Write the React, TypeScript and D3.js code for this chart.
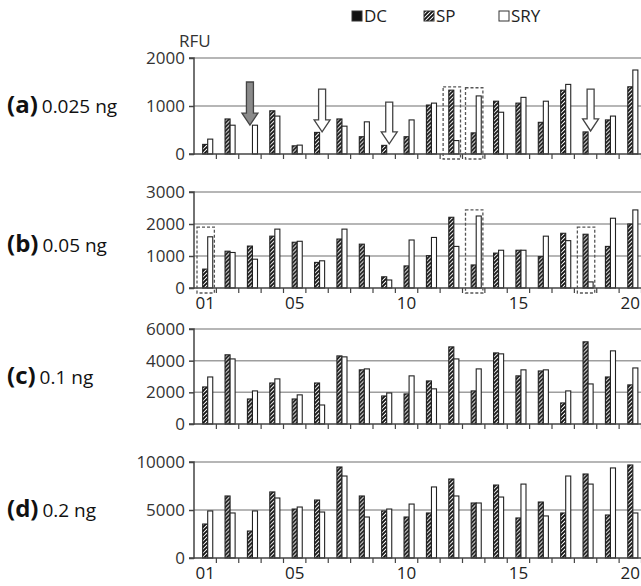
import { useEffect, useRef } from "react";
import * as d3 from "d3";

const LOCI = d3.range(1, 21).map((d) => String(d).padStart(2, "0"));
const SERIES = ["DC", "SP", "SRY"];
const AXIS_LABELS = ["01", "05", "10", "15", "20"];

// RFU per locus (DC is zero throughout)
const DC = new Array(20).fill(0);

const SP_A = [200, 730, 0, 900, 170, 450, 730, 360, 180, 360, 1020, 1330, 440, 1100, 1060, 660, 1330, 460, 710, 1400];
const SRY_A = [310, 600, 600, 790, 185, 0, 580, 670, 0, 710, 1060, 280, 1210, 870, 1180, 1100, 1450, 0, 790, 1750];

const SP_B = [590, 1150, 1310, 1620, 1430, 800, 1530, 1370, 350, 690, 1010, 2210, 720, 1090, 1180, 980, 1710, 1680, 1300, 2000];
const SRY_B = [1600, 1110, 900, 1840, 1460, 850, 1840, 1000, 250, 1500, 1580, 1300, 2250, 1180, 1180, 1620, 1480, 190, 2180, 2440];

const SP_C = [2340, 4370, 1580, 2590, 1580, 2590, 4300, 3420, 1770, 1900, 2720, 4870, 2090, 4490, 3040, 3350, 1330, 5190, 2970, 2470];
const SRY_C = [2970, 4110, 2090, 2850, 1840, 1200, 4240, 3480, 1960, 3040, 2220, 4110, 3480, 4430, 3420, 3420, 2090, 2530, 4620, 3540];

const SP_D = [3540, 6460, 2810, 6880, 5100, 6040, 9480, 6460, 4900, 4270, 4690, 8230, 5730, 7600, 4170, 5830, 4690, 8750, 4480, 9690];
const SRY_D = [4900, 4690, 4900, 6250, 5310, 4790, 8540, 4270, 5100, 5620, 7400, 6460, 5730, 6350, 7700, 4380, 8540, 7700, 9380, 4690];

const PANELS = [
  { letter: "(a)", amount: "0.025 ng", max: 2000, ticks: [0, 1000, 2000], sp: SP_A, sry: SRY_A, labels: false },
  { letter: "(b)", amount: "0.05 ng", max: 3000, ticks: [0, 1000, 2000, 3000], sp: SP_B, sry: SRY_B, labels: true },
  { letter: "(c)", amount: "0.1 ng", max: 6000, ticks: [0, 2000, 4000, 6000], sp: SP_C, sry: SRY_C, labels: false },
  { letter: "(d)", amount: "0.2 ng", max: 10000, ticks: [0, 5000, 10000], sp: SP_D, sry: SRY_D, labels: true },
];

// dropout arrows: panel, locus, which bar is missing, arrow top and tip in RFU
const ARROWS = [
  { panel: 0, locus: "03", series: "SP", top: 1500, tip: 600, fill: "#8a8a8a" },
  { panel: 0, locus: "06", series: "SRY", top: 1350, tip: 460, fill: "#fff" },
  { panel: 0, locus: "09", series: "SRY", top: 1080, tip: 210, fill: "#fff" },
  { panel: 0, locus: "18", series: "SRY", top: 1350, tip: 480, fill: "#fff" },
];

// dashed boxes: panel, locus, top in RFU
const BOXES = [
  { panel: 0, locus: "12", top: 1400 },
  { panel: 0, locus: "13", top: 1380 },
  { panel: 1, locus: "01", top: 1900 },
  { panel: 1, locus: "13", top: 2440 },
  { panel: 1, locus: "18", top: 1900 },
];

const W = 641;
const H = 586;
const FONT = "'Open Sans', sans-serif";
const BASES = [154, 288, 424, 558];
const TOPS = [58, 192, 329, 462];
const LABEL_Y = [113, 252, 384, 517];

const App = () => {
  const svgRef = useRef(null);

  useEffect(() => {
    const svg = d3.select(svgRef.current);
    svg.selectAll("*").remove();

    const defs = svg.append("defs");
    const pat = defs
      .append("pattern")
      .attr("id", "hatch")
      .attr("patternUnits", "userSpaceOnUse")
      .attr("width", 4)
      .attr("height", 4);
    pat.append("rect").attr("width", 4).attr("height", 4).attr("fill", "#fff");
    pat
      .append("path")
      .attr("d", "M-1,1 l2,-2 M0,4 l4,-4 M3,5 l2,-2")
      .attr("stroke", "#111")
      .attr("stroke-width", 1.9);

    const x0 = d3.scaleBand().domain(LOCI).range([194, 641.5]);
    const x1 = d3.scaleBand().domain(SERIES).range([0, x0.bandwidth()]).paddingOuter(0.72);

    // legend
    const legend = [
      { name: "DC", x: 352, fill: "#111" },
      { name: "SP", x: 424, fill: "url(#hatch)" },
      { name: "SRY", x: 499, fill: "#fff" },
    ];
    const lg = svg.append("g").attr("font-family", FONT).attr("font-size", 17);
    legend.forEach((l) => {
      lg.append("rect")
        .attr("x", l.x)
        .attr("y", 11)
        .attr("width", 10)
        .attr("height", 10)
        .attr("fill", l.fill)
        .attr("stroke", "#333");
      lg.append("text").attr("x", l.x + 12).attr("y", 22).attr("fill", "#222").text(l.name);
    });

    svg
      .append("text")
      .attr("x", 179)
      .attr("y", 47)
      .attr("font-family", FONT)
      .attr("font-size", 17)
      .attr("fill", "#333")
      .text("RFU");

    PANELS.forEach((p, i) => {
      const y = d3.scaleLinear().domain([0, p.max]).range([BASES[i], TOPS[i]]);
      const g = svg.append("g");

      // gridlines
      g.selectAll(".grid")
        .data(p.ticks.filter((t) => t > 0))
        .join("line")
        .attr("x1", 194)
        .attr("x2", W)
        .attr("y1", (d) => y(d))
        .attr("y2", (d) => y(d))
        .attr("stroke", "#9e9e9e")
        .attr("stroke-width", 1.5);

      // bars
      const rows = LOCI.map((loc, k) => ({ loc, DC: DC[k], SP: p.sp[k], SRY: p.sry[k] }));
      const groups = g
        .selectAll(".locus")
        .data(rows)
        .join("g")
        .attr("transform", (d) => `translate(${x0(d.loc)},0)`);
      groups
        .selectAll("rect")
        .data((d) => SERIES.map((s) => ({ s, v: d[s] })).filter((e) => e.v > 0))
        .join("rect")
        .attr("x", (d) => x1(d.s))
        .attr("width", x1.bandwidth())
        .attr("y", (d) => y(d.v))
        .attr("height", (d) => y(0) - y(d.v))
        .attr("fill", (d) => (d.s === "SP" ? "url(#hatch)" : d.s === "DC" ? "#111" : "#fff"))
        .attr("stroke", "#222")
        .attr("stroke-width", 1.1);

      // y axis
      const yAxis = d3
        .axisLeft(y)
        .tickValues(p.ticks)
        .tickFormat(d3.format("d"))
        .tickSize(5)
        .tickPadding(4);
      const ya = g.append("g").attr("transform", "translate(194,0)").call(yAxis);
      ya.select(".domain").attr("stroke", "#444").attr("stroke-width", 1.5).attr("d", `M-5,${y(p.max)}H0V${y(0)}H-5`);
      ya.selectAll(".tick line").attr("stroke", "#444").attr("stroke-width", 1.5);
      ya.selectAll(".tick text")
        .attr("font-family", FONT)
        .attr("font-size", 17)
        .attr("fill", "#333");

      // x axis
      const xa = g.append("g");
      xa.append("line")
        .attr("x1", 194)
        .attr("x2", W)
        .attr("y1", y(0))
        .attr("y2", y(0))
        .attr("stroke", "#444")
        .attr("stroke-width", 1.5);
      xa.selectAll(".xt")
        .data(LOCI)
        .join("line")
        .attr("x1", (d) => x0(d) + x0.bandwidth())
        .attr("x2", (d) => x0(d) + x0.bandwidth())
        .attr("y1", y(0))
        .attr("y2", y(0) + 5)
        .attr("stroke", "#444")
        .attr("stroke-width", 1.2);
      if (p.labels) {
        xa.selectAll(".xl")
          .data(AXIS_LABELS)
          .join("text")
          .attr("x", (d) => x0(d) + x0.bandwidth() / 2)
          .attr("y", y(0) + 21)
          .attr("text-anchor", "middle")
          .attr("font-family", FONT)
          .attr("font-size", 17)
          .attr("fill", "#222")
          .text((d) => d);
      }

      // panel label
      const lt = svg
        .append("text")
        .attr("x", 7)
        .attr("y", LABEL_Y[i])
        .attr("font-family", FONT)
        .attr("fill", "#111");
      lt.append("tspan").attr("font-weight", "bold").attr("font-size", 24).text(p.letter);
      lt.append("tspan").attr("dx", 4).attr("font-size", 19).text(p.amount);

      // dashed boxes
      BOXES.filter((b) => b.panel === i).forEach((b) => {
        g.append("rect")
          .attr("x", x0(b.locus) + 3)
          .attr("y", y(b.top))
          .attr("width", x0.bandwidth() - 5)
          .attr("height", y(0) + 5 - y(b.top))
          .attr("fill", "none")
          .attr("stroke", "#555")
          .attr("stroke-width", 1.3)
          .attr("stroke-dasharray", "3,2");
      });

      // arrows
      ARROWS.filter((a) => a.panel === i).forEach((a) => {
        const cx = x0(a.locus) + x1(a.series) + x1.bandwidth() / 2;
        const yt = y(a.top);
        const yp = y(a.tip);
        const yh = yp - 12;
        const sw = 3.5;
        const hw = 8;
        const path = d3.path();
        path.moveTo(cx - sw, yt);
        path.lineTo(cx + sw, yt);
        path.lineTo(cx + sw, yh);
        path.lineTo(cx + hw, yh);
        path.lineTo(cx, yp);
        path.lineTo(cx - hw, yh);
        path.lineTo(cx - sw, yh);
        path.closePath();
        g.append("path")
          .attr("d", path.toString())
          .attr("fill", a.fill)
          .attr("stroke", "#444")
          .attr("stroke-width", 1.3);
      });
    });
  }, []);

  return (
    <svg
      ref={svgRef}
      width={W}
      height={H}
      style={{ position: "absolute", left: 0, top: 0, background: "#fff" }}
    />
  );
};

export default App;
